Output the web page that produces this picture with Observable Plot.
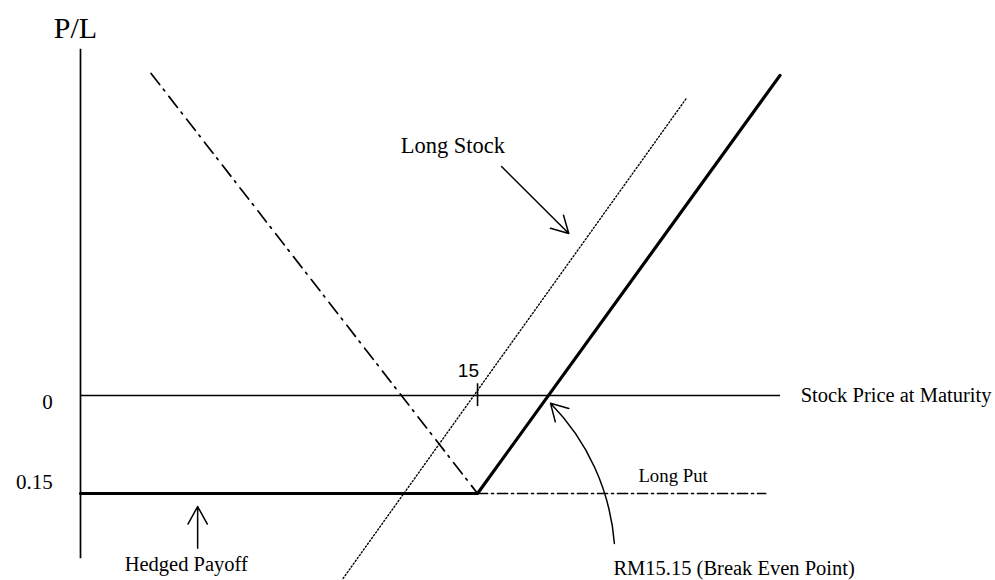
<!DOCTYPE html>
<html>
<head>
<meta charset="utf-8">
<script src="https://cdn.jsdelivr.net/npm/d3@7"></script>
<script src="https://cdn.jsdelivr.net/npm/@observablehq/plot@0.6"></script>
<style>
  html, body { margin: 0; padding: 0; background: #fff; }
  #chart svg { display: block; }
</style>
</head>
<body>
<div id="chart"></div>
<script>
// ---- Data (price in RM, P/L in RM) ----
const strike = 15;
const premium = 0.15;
const breakEven = 15.15;
const priceDomain = [14.173, 15.631];
const plDomain = [-0.25, 0.53];

const hedgedPayoff = [
  {price: 14.173, pl: -0.15},
  {price: 15.0, pl: -0.15},
  {price: 15.63, pl: 0.49}
];
const longStock = [
  {price: 14.72, pl: -0.28},
  {price: 15.435, pl: 0.455}
];
const longPutSlope = [
  {price: 14.32, pl: 0.493},
  {price: 15.0, pl: -0.15}
];
const longPutFlat = [
  {price: 15.0, pl: -0.15},
  {price: 15.6, pl: -0.15}
];

// y-axis tick labels
const yTickLabels = [
  {pl: -0.02, text: "0"},
  {pl: -0.143, text: "0.15"}
];

// annotations (label positions in data units)
const labels = [
  {price: 15.673, pl: -0.0107, text: "Stock Price at Maturity", size: 20.5},
  {price: 14.84, pl: 0.372, text: "Long Stock", size: 22.5},
  {price: 15.335, pl: -0.133, text: "Long Put", size: 18.8},
  {price: 14.265, pl: -0.268, text: "Hedged Payoff", size: 20.5},
  {price: 15.283, pl: -0.2755, text: "RM15.15 (Break Even Point)", size: 20.5}
];

// arrows: tail -> tip
const straightArrows = [
  {x1: 15.05, y1: 0.3505, x2: 15.19, y2: 0.248}
];
const hedgeArrow = [
  {x1: 14.417, y1: -0.266, x2: 14.417, y2: -0.170}
];
const breakEvenArrow = [
  {x1: 15.285, y1: -0.2265, x2: 15.152, y2: -0.012}
];

const serif = "'Liberation Serif', 'Times New Roman', Times, serif";
const sans = "'Liberation Sans', Arial, Helvetica, sans-serif";

const chart = Plot.plot({
  width: 995,
  height: 580,
  x: {type: "linear", domain: priceDomain, range: [80, 780], axis: null},
  y: {type: "linear", domain: plDomain, range: [558.3, 48.8], axis: null},
  style: {background: "#fff", fontFamily: serif},
  marks: [
    // vertical P/L axis
    Plot.ruleX([priceDomain[0]], {y1: plDomain[0], y2: plDomain[1], stroke: "#000", strokeWidth: 1.7}),
    // zero line (stock price axis)
    Plot.ruleY([0], {x1: priceDomain[0], x2: priceDomain[1], stroke: "#000", strokeWidth: 1.6}),
    // tick at 15
    Plot.ruleX([strike], {y1: 0.018, y2: -0.017, stroke: "#000", strokeWidth: 1.6}),
    Plot.text([{price: 14.981, pl: 0.0276}], {x: "price", y: "pl", text: () => "15", fontFamily: sans, fontSize: 19, textAnchor: "middle", lineAnchor: "bottom", fill: "#000"}),
    // long stock (dotted)
    Plot.line(longStock, {x: "price", y: "pl", stroke: "#000", strokeWidth: 1.4, strokeDasharray: "1.3,2.2"}),
    // long put (dash-dot)
    Plot.line(longPutSlope, {x: "price", y: "pl", stroke: "#000", strokeWidth: 1.7, strokeDasharray: "14,6,2,7"}),
    Plot.line(longPutFlat, {x: "price", y: "pl", stroke: "#000", strokeWidth: 1.7, strokeDasharray: "10,4,2,4"}),
    // hedged payoff (thick)
    Plot.line(hedgedPayoff, {x: "price", y: "pl", stroke: "#000", strokeWidth: 3.2, strokeLinejoin: "miter"}),
    // arrows
    Plot.arrow(straightArrows, {x1: "x1", y1: "y1", x2: "x2", y2: "y2", stroke: "#000", strokeWidth: 1.5, headLength: 19, headAngle: 58}),
    Plot.arrow(hedgeArrow, {x1: "x1", y1: "y1", x2: "x2", y2: "y2", stroke: "#000", strokeWidth: 1.5, headLength: 20, headAngle: 58, insetStart: 21}),
    Plot.arrow(breakEvenArrow, {x1: "x1", y1: "y1", x2: "x2", y2: "y2", stroke: "#000", strokeWidth: 1.5, headLength: 19, headAngle: 60, bend: -20}),
    // y tick labels
    Plot.text(yTickLabels, {x: () => 14.115, y: "pl", text: "text", textAnchor: "end", lineAnchor: "bottom", fontSize: 21, fontFamily: serif, fill: "#000"}),
    // axis title
    Plot.text([{price: 14.1625, pl: 0.548}], {x: "price", y: "pl", text: () => "P/L", textAnchor: "middle", lineAnchor: "bottom", fontSize: 30, fontFamily: serif, fill: "#000"}),
    // annotation labels
    Plot.text(labels, {x: "price", y: "pl", text: "text", textAnchor: "start", lineAnchor: "bottom", fontSize: (d) => d.size, fontFamily: serif, fill: "#000"})
  ]
});

document.getElementById("chart").appendChild(chart);
</script>
</body>
</html>
